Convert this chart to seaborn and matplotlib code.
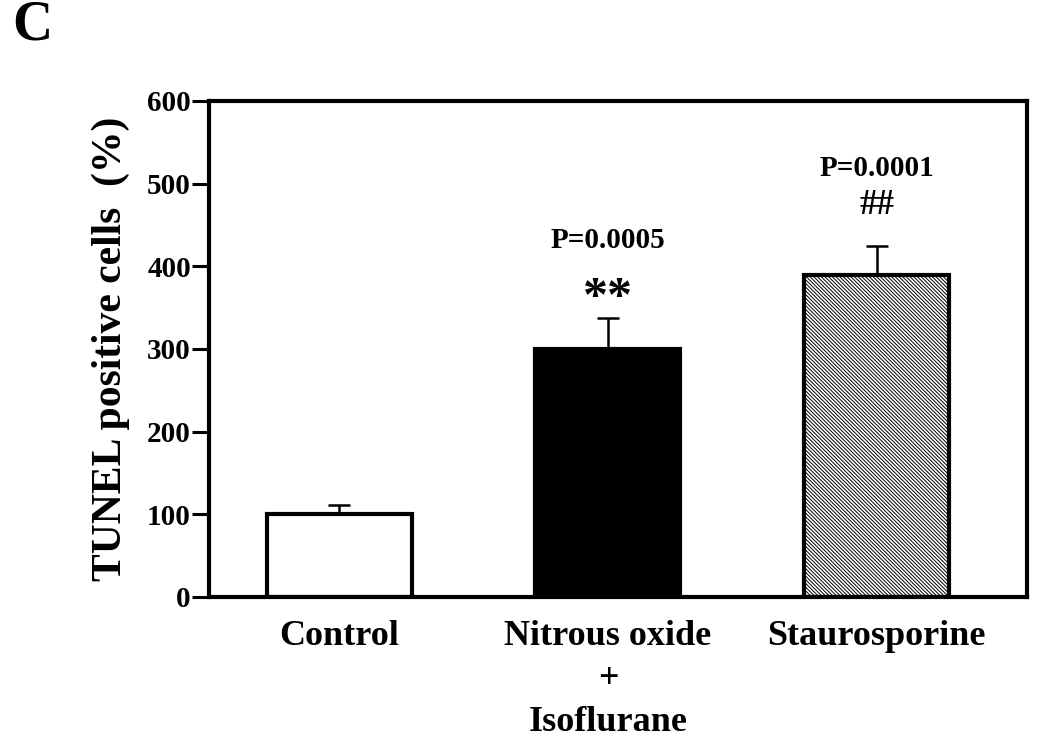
import pandas as pd
import seaborn as sns
import numpy as np
from matplotlib import pyplot as plt

# values
groups = ['Control', 'Nitrous oxide\n+\nIsoflurane', 'Staurosporine']
means = [100, 300, 390]
errors = [11, 38, 35]
p_texts = ['', 'P=0.0005', 'P=0.0001']
marks = ['', '**', '##']
fills = ['white', 'black', 'white']
yticks = [0, 100, 200, 300, 400, 500, 600]

df = pd.DataFrame({'group': groups, 'mean': means})

sns.set_style('white')
plt.rcParams['font.family'] = ['Liberation Serif', 'DejaVu Serif']
plt.rcParams['font.weight'] = 'bold'
plt.rcParams['hatch.linewidth'] = 0.7
for k in ['text.color', 'axes.labelcolor', 'xtick.color', 'ytick.color']:
    plt.rcParams[k] = 'black'

fig = plt.figure(figsize=(10.5, 7.44), dpi=100)
ax = fig.add_axes([0.199, 0.1976, 0.7790, 0.6667])

sns.barplot(data=df, x='group', y='mean', hue='group', palette=fills,
            legend=False, errorbar=None, width=0.54, edgecolor='black',
            linewidth=3, ax=ax)
ax.patches[2].set_hatch('\\' * 9)

# one-sided error bars (upper only)
x = np.arange(len(groups))
ax.errorbar(x, means, yerr=[np.zeros(len(errors)), errors], fmt='none',
            ecolor='black', elinewidth=1.8, capsize=8, capthick=1.8, zorder=1)

# significance labels
for i in range(len(groups)):
    if p_texts[i]:
        top = means[i] + errors[i]
        if marks[i] == '**':
            ax.text(i, top + 22, marks[i], ha='center', va='center',
                    fontsize=36, fontweight='bold')
        else:
            ax.text(i, top + 49, marks[i], ha='center', va='center',
                    fontsize=25, fontweight='bold')
        ax.text(i, top + 93, p_texts[i], ha='center', va='center',
                fontsize=21, fontweight='bold')

ax.set_ylim(0, 600)
ax.set_xlim(-0.486, 2.56)
ax.set_yticks(yticks)
ax.set_xlabel('')
ax.set_ylabel('TUNEL positive cells  (%)', fontsize=30, fontweight='bold',
              labelpad=12)
ax.tick_params(axis='y', direction='out', length=12, width=2.2, left=True,
               labelsize=21, pad=1)
ax.tick_params(axis='x', bottom=False, labelsize=26, pad=13)
for lab in ax.get_xticklabels():
    lab.set_linespacing(1.4)
for s in ax.spines.values():
    s.set_linewidth(3)
    s.set_color('black')
    s.set_visible(True)

fig.text(0.012, 1 - 40 / 744, 'C', fontsize=40, fontweight='bold',
         va='baseline')

plt.savefig('out.png', dpi=100)
